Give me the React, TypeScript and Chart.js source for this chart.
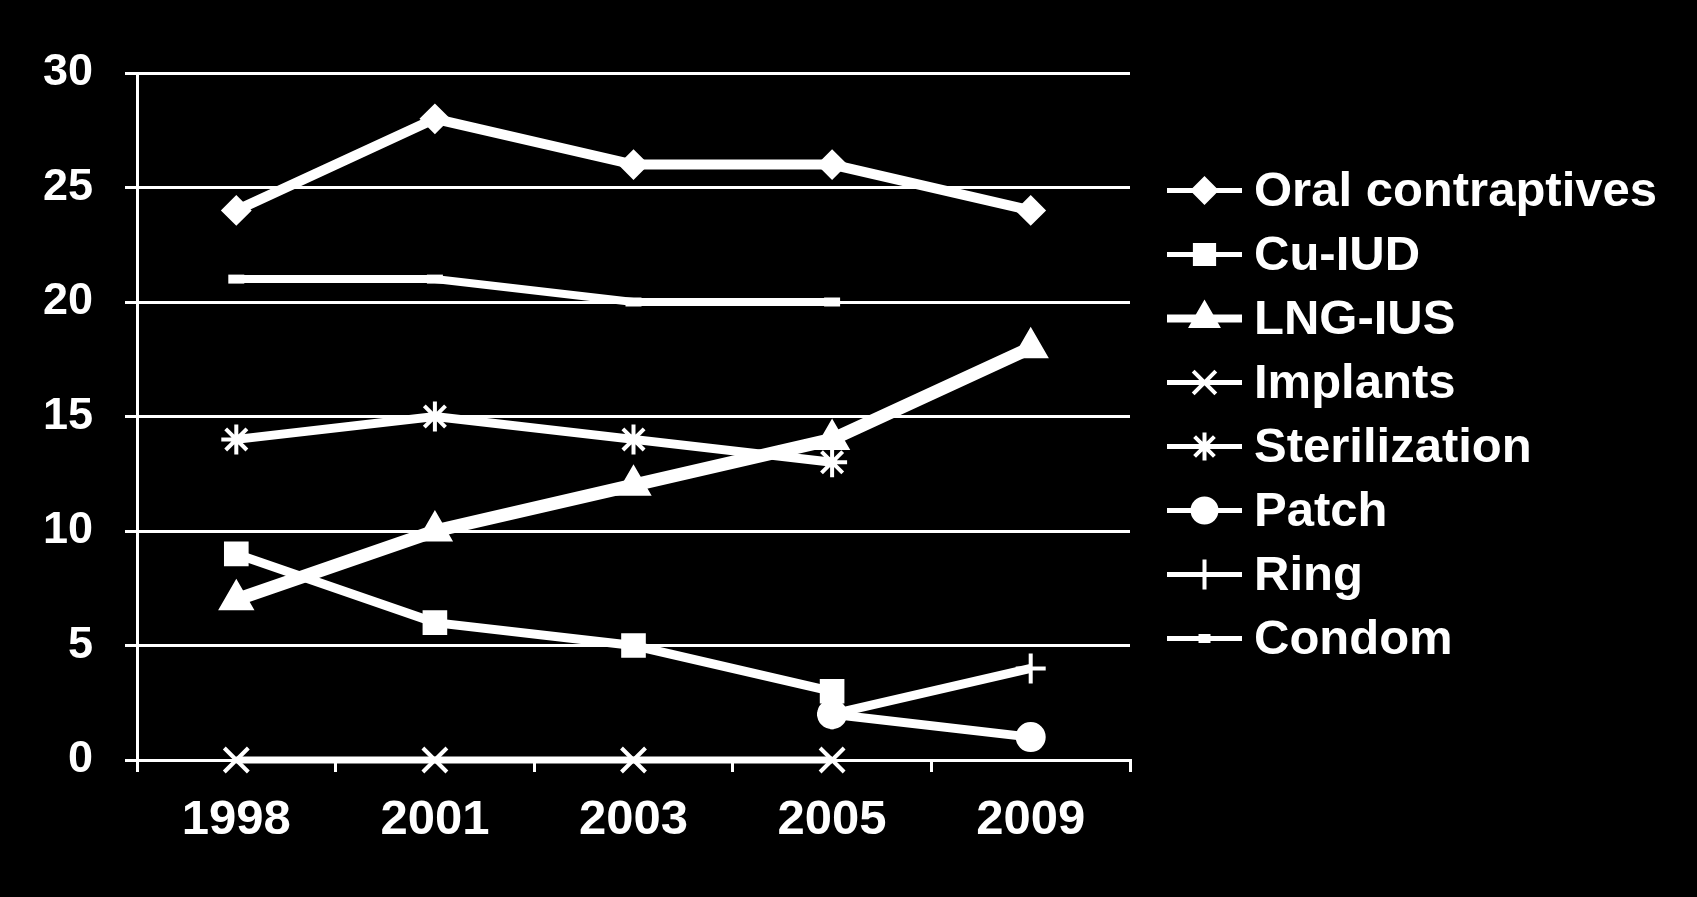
import React, { useEffect, useRef } from "react";
import { Chart, registerables } from "chart.js";
import { drawPoint } from "chart.js/helpers";

Chart.register(...registerables);

// ---- data ----
const years = ["1998", "2001", "2003", "2005", "2009"];
const seriesNames = [
  "Oral contraptives",
  "Cu-IUD",
  "LNG-IUS",
  "Implants",
  "Sterilization",
  "Patch",
  "Ring",
  "Condom",
];
const oralContraceptives = [24, 28, 26, 26, 24];
const cuIUD = [9, 6, 5, 3, null];
const lngIUS = [7, 10, 12, 14, 18];
const implants = [0, 0, 0, 0, null];
const sterilization = [14, 15, 14, 13, null];
const patch = [null, null, null, 2, 1];
const ring = [null, null, null, 2, 4];
const condom = [21, 21, 20, 20, null];
const yMin = 0;
const yMax = 30;
const yStep = 5;

// ---- styles ----
const FONT = "'Liberation Sans', Arial, sans-serif";
const WHITE = "#ffffff";
const seriesValues = [oralContraceptives, cuIUD, lngIUS, implants, sterilization, patch, ring, condom];
const markerStyles = ["rectRot", "rect", "triangle", "crossRot", "star", "circle", "cross", "line"];
const markerRadius = [14, 16, 19, 17, 15, 14, 15, 8];
const markerBorder = [2, 2, 2, 4, 4, 2, 4, 9];
const lineWidths = [10, 9, 13, 7, 9, 9, 9, 8];
const legendLineWidths = [5, 5, 8, 5, 5, 5, 5, 5];
const legendMarkerRadius = [13, 15, 17, 16, 14, 13, 15, 6];

const sideLegend = {
  id: "sideLegend",
  afterDraw(chart: any) {
    const { ctx, chartArea } = chart;
    const rowH = 64;
    const n = chart.data.datasets.length;
    const centerY = (chartArea.top + chartArea.bottom) / 2 - 2;
    const startY = centerY - ((n - 1) / 2) * rowH;
    const lineX0 = chartArea.right + 37;
    const lineX1 = lineX0 + 75;
    const textX = lineX1 + 12;
    ctx.save();
    chart.data.datasets.forEach((ds: any, i: number) => {
      const y = startY + i * rowH;
      ctx.strokeStyle = WHITE;
      ctx.fillStyle = WHITE;
      ctx.lineWidth = legendLineWidths[i];
      ctx.beginPath();
      ctx.moveTo(lineX0, y);
      ctx.lineTo(lineX1, y);
      ctx.stroke();
      ctx.lineWidth = markerBorder[i];
      drawPoint(
        ctx,
        {
          pointStyle: markerStyles[i],
          rotation: 0,
          radius: legendMarkerRadius[i],
          borderWidth: markerBorder[i],
        } as any,
        (lineX0 + lineX1) / 2,
        y
      );
      ctx.font = `bold 49px ${FONT}`;
      ctx.textAlign = "left";
      ctx.textBaseline = "middle";
      ctx.fillText(ds.label, textX, y + 2);
    });
    ctx.restore();
  },
};

export default function App() {
  const canvasRef = useRef<HTMLCanvasElement | null>(null);

  useEffect(() => {
    const canvas = canvasRef.current;
    if (!canvas) return;
    const datasets = seriesNames.map((name, i) => ({
      label: name,
      data: seriesValues[i],
      borderColor: WHITE,
      backgroundColor: WHITE,
      borderWidth: lineWidths[i],
      pointStyle: markerStyles[i],
      pointRadius: markerRadius[i],
      pointBorderWidth: markerBorder[i],
      pointBackgroundColor: WHITE,
      pointBorderColor: WHITE,
      tension: 0,
      spanGaps: false,
      clip: false as any,
    }));

    const chart = new Chart(canvas, {
      type: "line",
      data: { labels: years, datasets },
      options: {
        animation: false,
        responsive: false,
        maintainAspectRatio: false,
        layout: { padding: { top: 73, right: 567, left: 0, bottom: 0 } },
        plugins: {
          legend: { display: false },
          tooltip: { enabled: false },
        },
        scales: {
          x: {
            type: "category",
            offset: true,
            grid: {
              offset: true,
              drawOnChartArea: false,
              drawTicks: true,
              tickLength: 12,
              color: WHITE,
              lineWidth: 3,
            },
            border: { display: true, color: WHITE, width: 3 },
            ticks: {
              color: WHITE,
              font: { family: FONT, size: 49, weight: "bold" },
              padding: 19,
              maxRotation: 0,
              autoSkip: false,
            },
            afterFit: (s: any) => {
              s.height = 137;
            },
          },
          y: {
            min: yMin,
            max: yMax,
            grid: {
              color: WHITE,
              lineWidth: 3,
              tickLength: 12,
              drawTicks: true,
            },
            border: { display: true, color: WHITE, width: 3 },
            ticks: {
              stepSize: yStep,
              color: WHITE,
              font: { family: FONT, size: 45, weight: "bold" },
              padding: 32,
            },
            afterFit: (s: any) => {
              s.width = 137;
            },
          },
        },
      },
      plugins: [sideLegend],
    });
    return () => chart.destroy();
  }, []);

  return (
    <div
      style={{
        position: "fixed",
        left: 0,
        top: 0,
        width: 1697,
        height: 897,
        background: "#000000",
      }}
    >
      <canvas ref={canvasRef} width={1697} height={897} style={{ display: "block" }} />
    </div>
  );
}
